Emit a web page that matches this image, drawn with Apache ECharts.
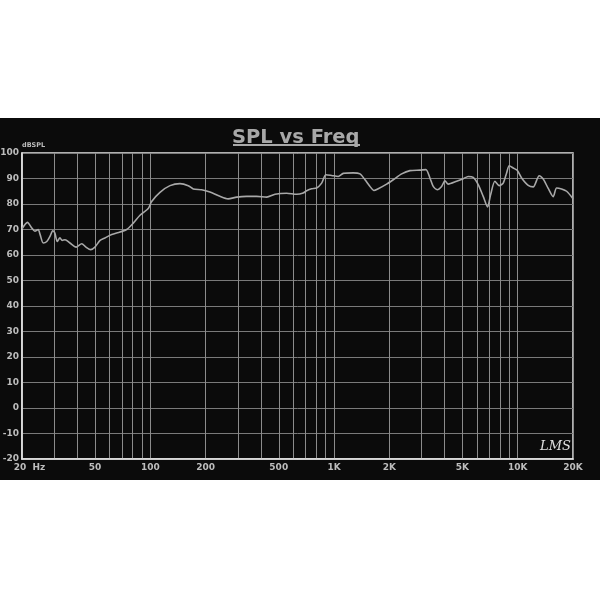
<!DOCTYPE html>
<html>
<head>
<meta charset="utf-8">
<script src="https://cdn.jsdelivr.net/npm/echarts@6/dist/echarts.min.js"></script>
<style>
html,body{margin:0;padding:0;background:#ffffff;width:600px;height:600px;overflow:hidden;}
#chart{position:absolute;left:0;top:118px;width:600px;height:362px;background:#0b0b0b;}
</style>
</head>
<body>
<div id="chart"></div>
<script>
const freqs = [20, 21.4, 22.6, 23.5, 24.5, 25.1, 26.1, 27.3, 28.4, 29.4, 30.2, 31.1, 32.2, 33.1, 34.3, 36.5, 39.4, 42.3, 44.6, 47.3, 49.9, 53.2, 56.6, 61.6, 68.3, 74.3, 80.7, 87.8, 97.4, 101.6, 112.8, 127.9, 144.9, 160.8, 171.2, 190.2, 211, 239, 265, 295, 334, 379, 430, 477, 552, 626, 679, 709, 755, 804, 856, 903, 970, 1054, 1122, 1272, 1384, 1474, 1569, 1649, 1740, 1934, 2100, 2334, 2590, 2936, 3164, 3327, 3467, 3646, 3853, 4016, 4186, 4650, 5052, 5378, 5724, 6094, 6488, 6856, 7118, 7512, 7928, 8338, 8702, 8990, 9452, 9936, 10500, 11406, 12146, 13092, 13766, 14660, 15600, 16290, 17340, 18460, 20000];
const spl = [70.3, 72.8, 70.6, 69.3, 70, 68, 64.7, 65.3, 67.3, 69.5, 68.6, 65.3, 66.7, 65.7, 66, 64.7, 63.1, 64.4, 63.1, 62.1, 63.1, 65.7, 66.7, 68, 69, 70, 72.5, 75.6, 78.2, 81, 84.6, 87.2, 88, 87.2, 85.9, 85.6, 84.7, 83, 82, 82.7, 83, 83, 82.7, 83.8, 84.2, 83.8, 84.3, 85.2, 86, 86.3, 88.2, 91.5, 91.2, 90.8, 92, 92.2, 91.8, 89.5, 86.9, 85.3, 86, 87.8, 89.5, 91.8, 93.1, 93.3, 93.5, 90.2, 86.9, 85.6, 86.9, 89.1, 87.8, 88.9, 89.9, 90.8, 90.4, 87.6, 83, 78.8, 83.6, 88.9, 87.2, 88.2, 92.2, 95, 94.1, 93.2, 90.2, 87.3, 86.7, 91.1, 89.8, 86.1, 82.9, 86.3, 85.9, 85, 82.1];
const gridFreqs = [20, 30, 40, 50, 60, 70, 80, 90, 100, 200, 300, 400, 500, 600, 700, 800, 900, 1000, 2000, 3000, 4000, 5000, 6000, 7000, 8000, 9000, 10000, 20000];
const labelFreqs = [20, 50, 100, 200, 500, 1000, 2000, 5000, 10000, 20000];
const labelTexts = ['20  Hz', '50', '100', '200', '500', '1K', '2K', '5K', '10K', '20K'];

const chart = echarts.init(document.getElementById('chart'), null, {renderer: 'canvas'});
const labelFont = {color: '#bdbdbd', fontSize: 9, fontWeight: 'bold', fontFamily: 'DejaVu Sans'};

function labelFor(v) {
  let best = 0, bd = Infinity;
  for (let i = 0; i < labelFreqs.length; i++) {
    const d = Math.abs(Math.log10(v) - Math.log10(labelFreqs[i]));
    if (d < bd) { bd = d; best = i; }
  }
  return best === 0 ? '{first|' + labelTexts[0] + '}' : labelTexts[best];
}

chart.setOption({
  backgroundColor: '#0b0b0b',
  animation: false,
  title: {
    text: 'SPL vs Freq',
    left: 227,
    top: 5,
    textStyle: {color: '#a8a8a8', fontSize: 19.5, fontWeight: 'bold', fontFamily: 'DejaVu Sans'}
  },
  graphic: [
    {type: 'line', shape: {x1: 233, y1: 27, x2: 360, y2: 27}, style: {stroke: '#a8a8a8', lineWidth: 2}},
    {type: 'text', left: 540, top: 322, style: {text: 'LMS', fill: '#e0e0e0', font: 'italic 13px "DejaVu Serif"'}}
  ],
  grid: {left: 22, right: 27, top: 35, bottom: 21, show: true, borderColor: '#e6e6e6', borderWidth: 1.5, outerBoundsMode: 'none', containLabel: false},
  xAxis: {
    type: 'log',
    logBase: 10,
    min: 20,
    max: 20000,
    axisLine: {show: true, onZero: false, lineStyle: {color: '#e6e6e6', width: 1.5}},
    axisTick: {show: false, customValues: gridFreqs},
    splitLine: {show: true, lineStyle: {color: '#8c8c8c', width: 1}},
    minorTick: {show: false},
    axisLabel: {
      customValues: labelFreqs,
      formatter: labelFor,
      margin: 4,
      showMinLabel: true,
      showMaxLabel: true,
      hideOverlap: false,
      ...labelFont,
      rich: {first: {...labelFont, padding: [0, 0, 0, 15]}}
    }
  },
  yAxis: {
    type: 'value',
    min: -20,
    max: 100,
    interval: 10,
    name: 'dBSPL',
    nameLocation: 'end',
    nameGap: 1,
    nameTextStyle: {color: '#bdbdbd', fontSize: 6.5, fontWeight: 'bold', fontFamily: 'DejaVu Sans', align: 'left'},
    axisLine: {show: true, lineStyle: {color: '#e6e6e6', width: 1.5}},
    axisTick: {show: false},
    splitLine: {show: true, lineStyle: {color: '#7a7a7a', width: 1}},
    axisLabel: {margin: 3, ...labelFont}
  },
  series: [{
    type: 'line',
    data: freqs.map((f, i) => [f, spl[i]]),
    showSymbol: false,
    smooth: 0.25,
    lineStyle: {color: '#a9a9a9', width: 1.6},
    z: 5
  }]
});
</script>
</body>
</html>
